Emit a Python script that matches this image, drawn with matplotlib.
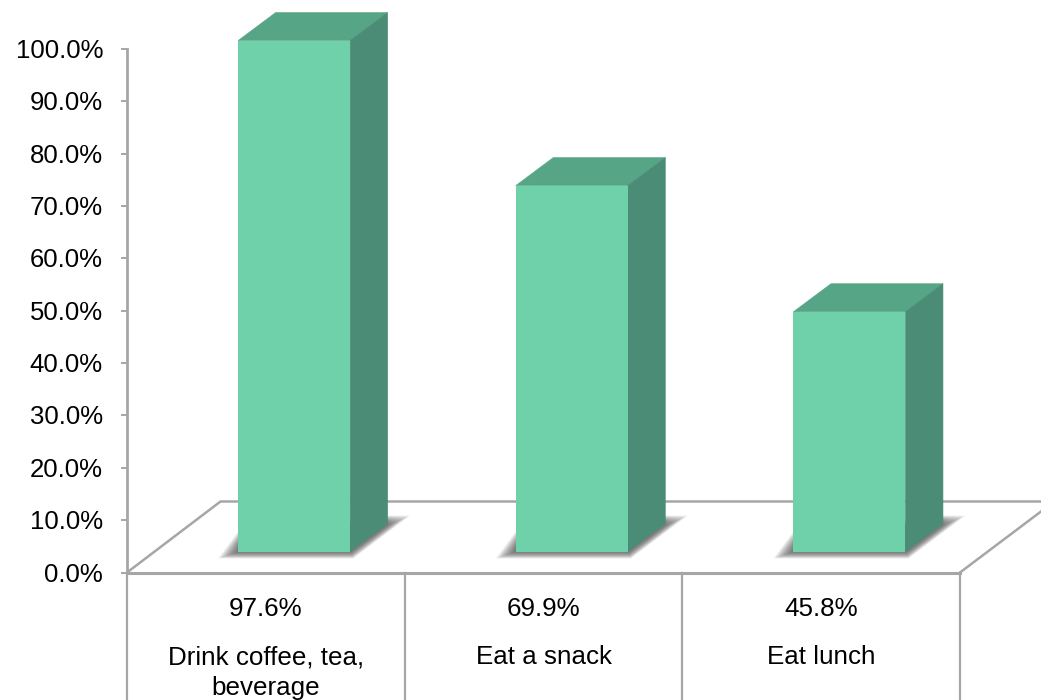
import numpy as np
import matplotlib.pyplot as plt
from matplotlib.patches import Polygon

categories = ['Drink coffee, tea,\nbeverage', 'Eat a snack', 'Eat lunch']
values = [97.6, 69.9, 45.8]
value_labels = ['97.6%', '69.9%', '45.8%']
y_ticks = [0, 10, 20, 30, 40, 50, 60, 70, 80, 90, 100]

plt.rcParams['font.family'] = ['Liberation Sans', 'DejaVu Sans']

W, H = 1041, 700
LEFT, RIGHT, BOTTOM, TOP = 127, 960, 572.5, 49

fig = plt.figure(figsize=(W / 100, H / 100), dpi=100)
ax = fig.add_axes([LEFT / W, 1 - BOTTOM / H, (RIGHT - LEFT) / W, (BOTTOM - TOP) / H])
ax.set_xlim(-0.5, 2.5)
ax.set_ylim(0, 100)

# pixels to data units
px_x = 3 / (RIGHT - LEFT)
px_y = 100 / (BOTTOM - TOP)

grey = '#a6a6a6'
front = '#6fd1aa'
top = '#55a586'
side = '#4a8c75'

# shadow outline around a bar, pixels from the bar's lower left corner
shadow_outer = np.array([(-20, -7), (115, -7), (172, 36), (149, 36), (0, 20)], dtype=float)
shadow_inner = np.array([(-2, -1), (113, -1), (150, 26), (149, 30), (0, 5)], dtype=float)


def poly(points, **kw):
    ax.add_patch(Polygon(points, closed=True, clip_on=False, **kw))


def px(x, y):
    # offset in pixels from the lower left corner of the axes
    return -0.5 + x * px_x, y * px_y


# floor
floor_x = [(0, 0), (93.5, 71), (RIGHT - LEFT + 81, 71)]
ax.plot(*zip(*[px(*p) for p in floor_x]), color=grey, lw=1.8, clip_on=False, zorder=1, solid_capstyle='butt')
ax.plot(*zip(*[px(RIGHT - LEFT, 0), px(RIGHT - LEFT + 81, 61)]), color=grey, lw=1.8, clip_on=False, zorder=1)

# 3d bars
bar_w = 112 * px_x
depth_x = 37.5 * px_x
depth_y = 28 * px_y
shift = 28.3 * px_x
base = 21 * px_y

for i, v in enumerate(values):
    l = i + shift - bar_w / 2
    r = l + bar_w
    b = base
    t = base + v

    # soft shadow on the floor, stacked layers from the outline inwards
    for s in np.linspace(0, 1, 14):
        shape = shadow_outer + (shadow_inner - shadow_outer) * s
        poly(np.column_stack([l + shape[:, 0] * px_x, b + shape[:, 1] * px_y]),
             facecolor='#3c3c3c', edgecolor='none', alpha=0.07, zorder=2)

    poly([(l, t), (r, t), (r + depth_x, t + depth_y), (l + depth_x, t + depth_y)],
         facecolor=top, edgecolor=top, lw=0.4, zorder=3)
    poly([(r, b), (r + depth_x, b + depth_y), (r + depth_x, t + depth_y), (r, t)],
         facecolor=side, edgecolor=side, lw=0.4, zorder=3)
    poly([(l, b), (r, b), (r, t), (l, t)], facecolor=front, edgecolor='none', zorder=4)

# axis
for s in ['top', 'right']:
    ax.spines[s].set_visible(False)
ax.spines['left'].set_color(grey)
ax.spines['left'].set_linewidth(2)
ax.spines['bottom'].set_color(grey)
ax.spines['bottom'].set_linewidth(2.2)
ax.set_yticks(y_ticks)
ax.tick_params(axis='y', length=4.5, width=1.4, color=grey, labelleft=False)
ax.set_xticks([])
ax.patch.set_alpha(0)

# y labels sit a little below their ticks
for t in y_ticks:
    ax.annotate('%.1f%%' % t, xy=(-0.5, t), xytext=(-24, -2), textcoords='offset pixels',
                ha='right', va='center', fontsize=18.5, annotation_clip=False)

# table below the axis
for x in [-0.5, 0.5, 1.5, 2.5]:
    ax.plot([x, x], [0, -(H - BOTTOM) * px_y], color=grey, lw=1.6, clip_on=False, zorder=1)

for i in range(len(categories)):
    ax.annotate(value_labels[i], xy=(i, 0), xytext=(0, -36), textcoords='offset pixels',
                ha='center', va='center', fontsize=18.7, annotation_clip=False)
    ax.annotate(categories[i], xy=(i, 0), xytext=(0, -73), textcoords='offset pixels',
                ha='center', va='top', fontsize=18.7, linespacing=1.32, annotation_clip=False)

fig.savefig('out.png', dpi=100)
